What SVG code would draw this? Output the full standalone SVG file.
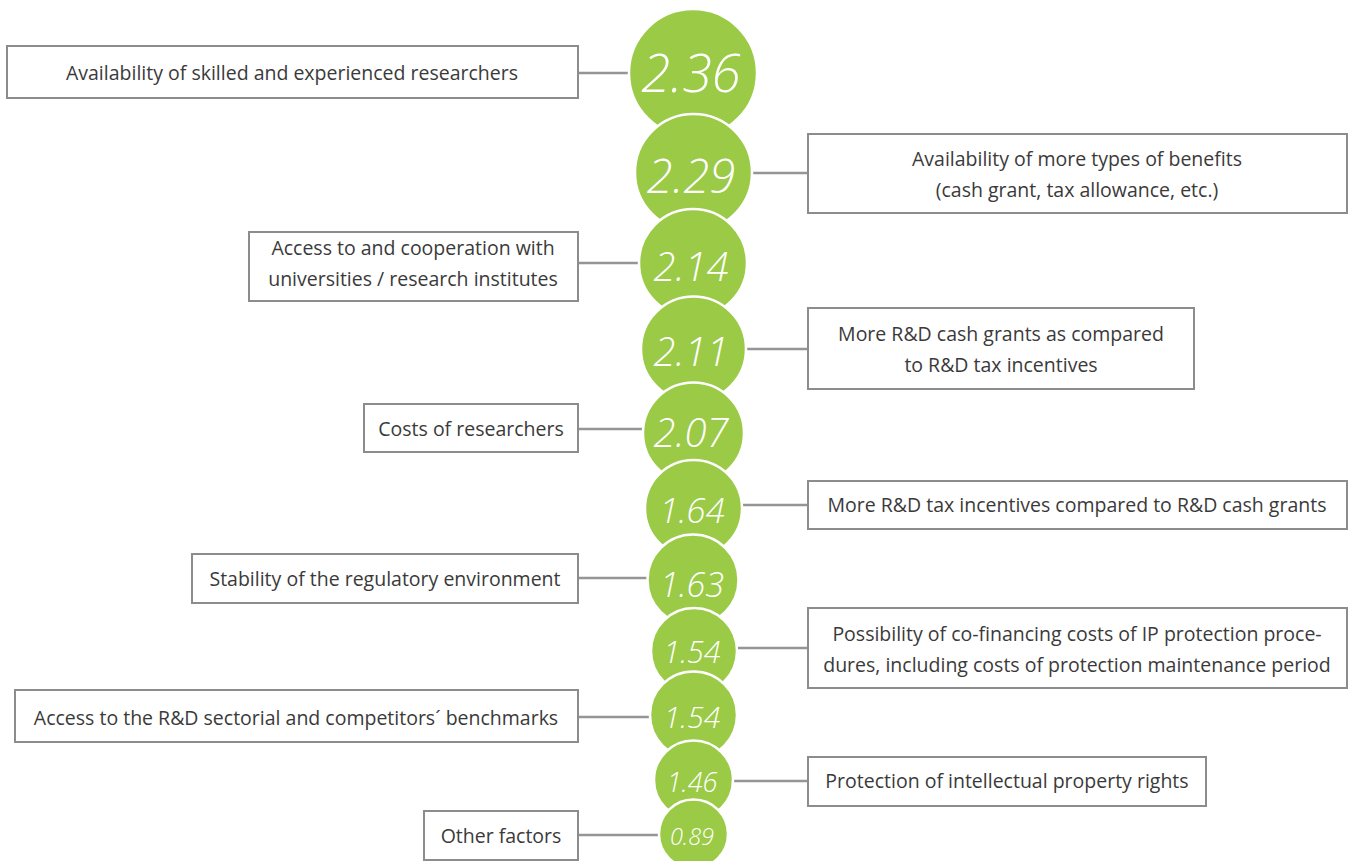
<svg xmlns="http://www.w3.org/2000/svg" width="1356" height="861" viewBox="0 0 1356 861">
<style>
.box{fill:#fff;stroke:#8c8c8c;stroke-width:2}
.lbl{font-family:"Open Sans","Liberation Sans",sans-serif;font-size:19.5px;fill:#3a3a3a;text-anchor:middle}
.c{fill:#9aca46;stroke:#fff;stroke-width:2.5}
.v{font-family:"Open Sans","Liberation Sans",sans-serif;font-style:italic;font-weight:300;fill:#fff;text-anchor:middle}
.conn line{stroke:#959595;stroke-width:2.5}
</style>
<rect width="1356" height="861" fill="#fff"/>
<g class="conn" id="connectors">
<line x1="578" y1="73" x2="632" y2="73"/>
<line x1="750" y1="173" x2="808" y2="173"/>
<line x1="578" y1="263" x2="641" y2="263"/>
<line x1="745" y1="349" x2="808" y2="349"/>
<line x1="578" y1="429" x2="645" y2="429"/>
<line x1="740" y1="505" x2="808" y2="505"/>
<line x1="578" y1="578" x2="649" y2="578"/>
<line x1="735" y1="648" x2="808" y2="648"/>
<line x1="578" y1="717" x2="652" y2="717"/>
<line x1="731" y1="781" x2="808" y2="781"/>
<line x1="578" y1="835" x2="660" y2="835"/>
</g>
<g id="n1"><rect class="box" x="7" y="46" width="571" height="52"/><text class="lbl" x="292" y="80">Availability of skilled and experienced researchers</text></g>
<g id="n2"><rect class="box" x="808" y="134" width="539" height="79"/><text class="lbl" x="1077" y="166">Availability of more types of benefits</text><text class="lbl" x="1077" y="197">(cash grant, tax allowance, etc.)</text></g>
<g id="n3"><rect class="box" x="249" y="232" width="329" height="69"/><text class="lbl" x="413" y="255">Access to and cooperation with</text><text class="lbl" x="413" y="286">universities / research institutes</text></g>
<g id="n4"><rect class="box" x="808" y="308" width="386" height="81"/><text class="lbl" x="1001" y="341">More R&amp;D cash grants as compared</text><text class="lbl" x="1001" y="372">to R&amp;D tax incentives</text></g>
<g id="n5"><rect class="box" x="364" y="404" width="214" height="48"/><text class="lbl" x="471" y="436">Costs of researchers</text></g>
<g id="n6"><rect class="box" x="808" y="481" width="539" height="48"/><text class="lbl" x="1077" y="512">More R&amp;D tax incentives compared to R&amp;D cash grants</text></g>
<g id="n7"><rect class="box" x="192" y="554" width="386" height="49"/><text class="lbl" x="385" y="586">Stability of the regulatory environment</text></g>
<g id="n8"><rect class="box" x="808" y="608" width="539" height="80"/><text class="lbl" x="1077" y="641">Possibility of co-financing costs of IP protection proce-</text><text class="lbl" x="1077" y="672">dures, including costs of protection maintenance period</text></g>
<g id="n9"><rect class="box" x="15" y="690" width="563" height="52"/><text class="lbl" x="296" y="725">Access to the R&amp;D sectorial and competitors´ benchmarks</text></g>
<g id="n10"><rect class="box" x="808" y="757" width="398" height="49"/><text class="lbl" x="1007" y="788">Protection of intellectual property rights</text></g>
<g id="n11"><rect class="box" x="424" y="811" width="154" height="49"/><text class="lbl" x="501" y="843">Other factors</text></g>
<g id="b1"><circle class="c" cx="693" cy="73" r="64"/><text class="v" x="691" y="92" font-size="53">2.36</text></g>
<g id="b2"><circle class="c" cx="693.5" cy="172.5" r="58.5"/><text class="v" x="691" y="193" font-size="47">2.29</text></g>
<g id="b3"><circle class="c" cx="693" cy="263" r="54"/><text class="v" x="691" y="281" font-size="40">2.14</text></g>
<g id="b4"><circle class="c" cx="693.5" cy="349" r="52.5"/><text class="v" x="691" y="366" font-size="40">2.11</text></g>
<g id="b5"><circle class="c" cx="693.5" cy="433" r="50.5"/><text class="v" x="691" y="447" font-size="40">2.07</text></g>
<g id="b6"><circle class="c" cx="693.5" cy="508.5" r="48.5"/><text class="v" x="692" y="523" font-size="35">1.64</text></g>
<g id="b7"><circle class="c" cx="693" cy="580" r="45.5"/><text class="v" x="692" y="597" font-size="34">1.63</text></g>
<g id="b8"><circle class="c" cx="694" cy="651" r="43"/><text class="v" x="692" y="663" font-size="30.5">1.54</text></g>
<g id="b9"><circle class="c" cx="693.5" cy="715" r="43.5"/><text class="v" x="692" y="728" font-size="30">1.54</text></g>
<g id="b10"><circle class="c" cx="693.5" cy="780" r="39.5"/><text class="v" x="692" y="792" font-size="27">1.46</text></g>
<g id="b11"><circle class="c" cx="693.5" cy="834" r="34.5"/><text class="v" x="692" y="845" font-size="23.5">0.89</text></g>
</svg>
